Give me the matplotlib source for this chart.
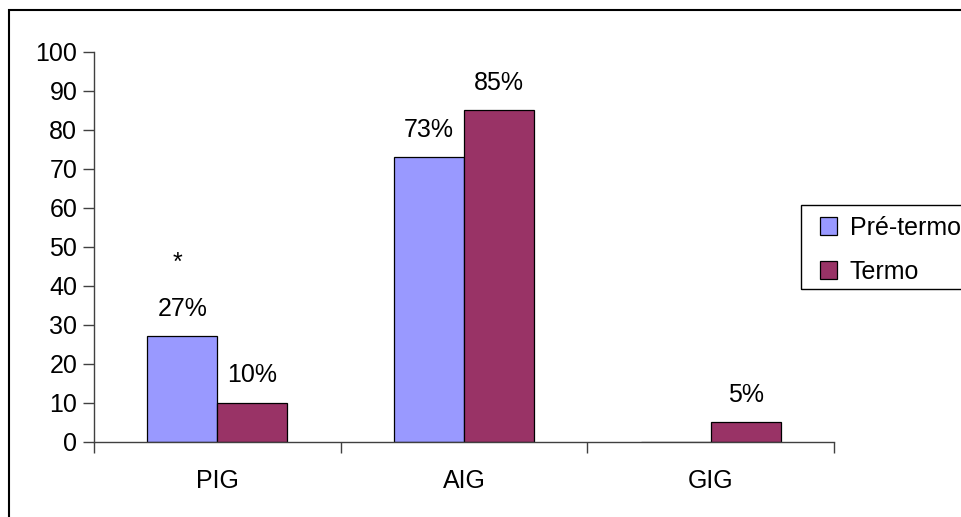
import numpy as np
import matplotlib
matplotlib.use('Agg')
import matplotlib.pyplot as plt
from matplotlib.patches import Rectangle

plt.rcParams['font.family'] = ['Liberation Sans', 'DejaVu Sans']

# Birth weight classes by gestational group (%)
categories = ['PIG', 'AIG', 'GIG']
series_names = ['Pré-termo', 'Termo']
pre_termo = [27, 73, 0]
termo = [10, 85, 5]
pre_labels = ['27%', '73%', None]
termo_labels = ['10%', '85%', '5%']
y_ticks = list(range(0, 101, 10))

blue = '#9999FF'
maroon = '#993366'

fig = plt.figure(figsize=(9.61, 5.17), dpi=100)
ax = fig.add_axes([94 / 961, 1 - 441.7 / 517, (834 - 94) / 961, (441.7 - 52) / 517])

x = np.arange(len(categories))
w = 0.284
b1 = ax.bar(x - w / 2, pre_termo, w, color=blue, edgecolor='black', linewidth=0.9)
b2 = ax.bar(x + w / 2, termo, w, color=maroon, edgecolor='black', linewidth=0.9)

# value labels above the bars
for bars, labels in [(b1, pre_labels), (b2, termo_labels)]:
    for rect, lab in zip(bars, labels):
        if lab is None:
            continue
        ax.annotate(lab, (rect.get_x() + rect.get_width() / 2, rect.get_height()),
                    xytext=(0, 11), textcoords='offset points',
                    ha='center', va='bottom', fontsize=18)

# significance mark over PIG pre-term
ax.text(x[0] - w / 2 - 0.02, 46, '*', ha='center', va='center', fontsize=18)

ax.set_xlim(-0.5, len(categories) - 0.5)
ax.set_ylim(0, 100)
ax.set_yticks(y_ticks)
ax.set_xticks(np.arange(len(categories) + 1) - 0.5, minor=False)
ax.set_xticklabels([])
ax.set_xticks(x, minor=True)
ax.set_xticklabels(categories, minor=True)
ax.tick_params(axis='x', which='major', direction='out', length=8, width=1, color='#404040')
ax.tick_params(axis='x', which='minor', length=0, pad=20, labelsize=18)
ax.tick_params(axis='y', direction='out', length=8, width=1, color='#404040', labelsize=18, pad=4)

for s in ['top', 'right']:
    ax.spines[s].set_visible(False)
for s in ['left', 'bottom']:
    ax.spines[s].set_color('#404040')
    ax.spines[s].set_linewidth(1)

leg = fig.legend([b1, b2], series_names, loc='upper left',
                 bbox_to_anchor=(811 / 961, 1 - 207 / 517), fontsize=18,
                 frameon=False,
                 handlelength=0.7, handleheight=0.7, handletextpad=0.5,
                 borderpad=0.35, labelspacing=0.8, borderaxespad=0)

# legend box, running off the right edge
fig.add_artist(Rectangle((800.7 / 961, 1 - 289 / 517), 0.3, 84 / 517,
                         transform=fig.transFigure, fill=False,
                         edgecolor='black', linewidth=1))

# outer chart frame
fig.add_artist(Rectangle((9 / 961, -0.2), 1.2, 1.2 - 10 / 517, transform=fig.transFigure,
                         fill=False, edgecolor='black', linewidth=1.5))

fig.savefig('out.png', dpi=100)
